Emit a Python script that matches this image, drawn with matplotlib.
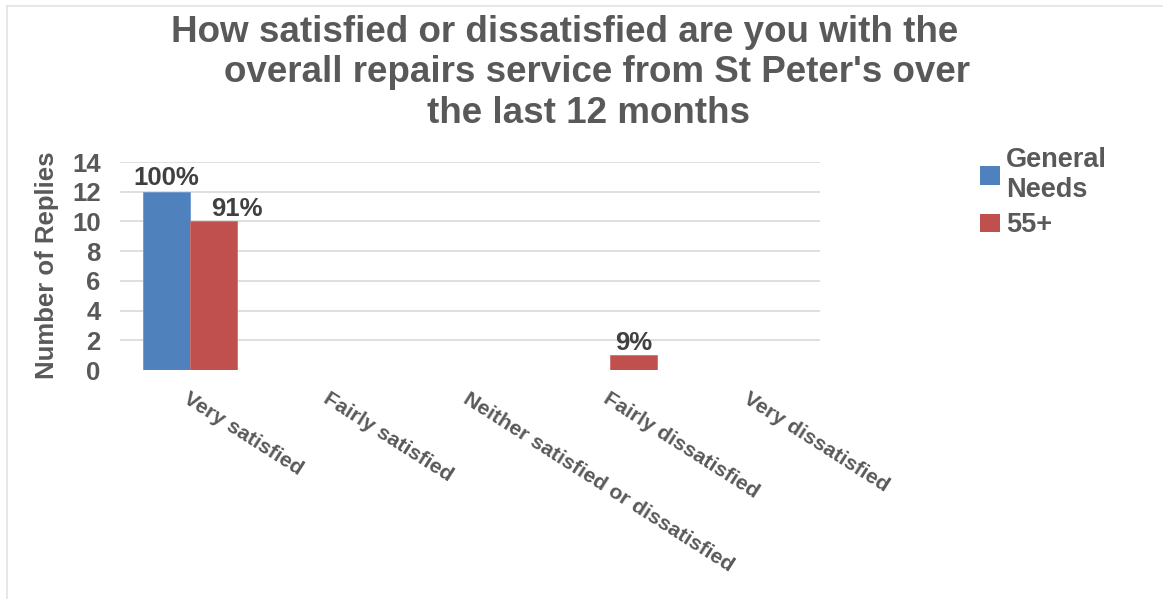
import matplotlib.pyplot as plt
from matplotlib.patches import Patch
from matplotlib.lines import Line2D
import numpy as np

plt.rcParams['font.family'] = ['Liberation Sans', 'DejaVu Sans']
plt.rcParams['font.weight'] = 'bold'

# Survey answers and reply counts per tenancy group
categories = ['Very satisfied', 'Fairly satisfied', 'Neither satisfied or dissatisfied',
              'Fairly dissatisfied', 'Very dissatisfied']
general_needs = [12, 0, 0, 0, 0]
over_55 = [10, 0, 0, 1, 0]
general_labels = ['100%', '', '', '', '']
over_55_labels = ['91%', '', '', '9%', '']
title_lines = ['How satisfied or dissatisfied are you with the',
               "overall repairs service from St Peter's over",
               'the last 12 months']

text_col = '#595959'
blue = '#4f81bd'
red = '#c0504d'
W, H = 1163, 599

fig = plt.figure(figsize=(W / 100, H / 100), dpi=100)
ax = fig.add_axes([120 / W, 1 - 370 / H, 700 / W, 208 / H])

x = np.arange(len(categories))
w = 0.335
b1 = ax.bar(x - w / 2, general_needs, w, color=blue, edgecolor='#6d97cf', linewidth=0.6, zorder=3)
b2 = ax.bar(x + w / 2, over_55, w, color=red, edgecolor='#d06e6b', linewidth=0.6, zorder=3)

for rect, lab in zip(b1, general_labels):
    if lab:
        ax.annotate(lab, (rect.get_x() + rect.get_width() / 2, rect.get_height()),
                    xytext=(0, 1), textcoords='offset points', ha='center', va='bottom',
                    fontsize=18.5, color='#404040', zorder=4)
for rect, lab in zip(b2, over_55_labels):
    if lab:
        dx = 17 if lab == '91%' else 0
        ax.annotate(lab, (rect.get_x() + rect.get_width() / 2, rect.get_height()),
                    xytext=(dx, 0), textcoords='offset points', ha='center', va='bottom',
                    fontsize=18.5, color='#404040', zorder=4)

ax.set_xlim(-0.5, len(categories) - 0.5)
ax.set_ylim(0, 14)
ax.set_yticks(range(0, 15, 2))
for v in range(2, 15, 2):
    ax.axhline(v, color='#d9d9d9', linewidth=1.2, zorder=0)
for s in ax.spines.values():
    s.set_visible(False)
ax.tick_params(axis='y', length=0, labelsize=18.5, labelcolor=text_col, pad=14)
ax.tick_params(axis='x', length=0, labelcolor=text_col, pad=14)
ax.set_xticks(x)
ax.set_xticklabels(categories, rotation=-32.5, ha='left', va='top',
                   rotation_mode='anchor', fontsize=15.3, fontweight='bold')

fig.text(47 / W, 1 - 265 / H, 'Number of Replies', rotation=90, ha='center', va='center',
         fontsize=18.5, color=text_col)

# three title lines, each placed on its own baseline
for line, cx, base in zip(title_lines, [564.5, 597.5, 588.5], [42, 82, 123]):
    fig.text(cx / W, 1 - base / H, line, ha='center', va='baseline',
             fontsize=26.5, color=text_col)

handles = [Patch(facecolor=blue, edgecolor='none'), Patch(facecolor=red, edgecolor='none')]
fig.legend(handles, ['General\nNeeds', '55+'], loc='upper left',
           bbox_to_anchor=(980 / W, 1 - 147 / H), frameon=False, fontsize=19.5,
           labelcolor=text_col, handlelength=0.75, handleheight=0.7,
           handletextpad=0.2, labelspacing=0.35, borderpad=0, borderaxespad=0)

# thin frame lines along the left and top edges
fig.add_artist(Line2D([7 / W, 7 / W], [0, 1 - 6 / H], transform=fig.transFigure,
                      color='#e3e3e3', linewidth=1.2))
fig.add_artist(Line2D([7 / W, 1], [1 - 6 / H, 1 - 6 / H], transform=fig.transFigure,
                      color='#e3e3e3', linewidth=1.2))

fig.savefig('out.png', dpi=100, facecolor='white')
